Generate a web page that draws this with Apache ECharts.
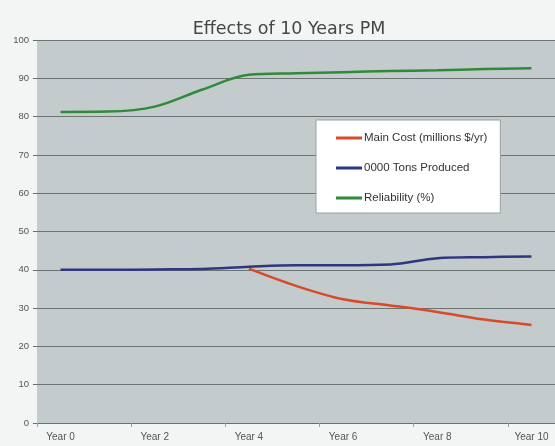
<!DOCTYPE html>
<html>
<head>
<meta charset="utf-8">
<script src="https://cdn.jsdelivr.net/npm/echarts@6/dist/echarts.min.js"></script>
<style>
html,body{margin:0;padding:0;background:#f3f4f4;}
#c{width:555px;height:446px;}
</style>
</head>
<body>
<div id="c"></div>
<script>
var years = ['Year 0','Year 1','Year 2','Year 3','Year 4','Year 5','Year 6','Year 7','Year 8','Year 9','Year 10'];
var mainCost = [null, null, null, null, 40.3, 35.8, 32.3, 30.7, 29.0, 27.0, 25.6];
var tonsProduced = [40.0, 40.0, 40.1, 40.2, 40.8, 41.2, 41.2, 41.4, 43.0, 43.3, 43.5];
var reliability = [81.2, 81.3, 82.6, 87.0, 90.9, 91.3, 91.6, 91.9, 92.1, 92.4, 92.6];
var seriesNames = ['Main Cost (millions $/yr)', '0000 Tons Produced', 'Reliability (%)'];
var yTicks = [0, 10, 20, 30, 40, 50, 60, 70, 80, 90, 100];

var chart = echarts.init(document.getElementById('c'));
chart.setOption({
  backgroundColor: '#f3f4f4',
  animation: false,
  title: {
    text: 'Effects of 10 Years PM',
    left: 284, textAlign: 'center',
    top: 15,
    textStyle: {fontFamily: 'DejaVu Sans', fontSize: 17.5, fontWeight: 'normal', color: '#464646'}
  },
  grid: {left: 37, right: -3, top: 40, bottom: 23, show: true, backgroundColor: '#c4cbcc', borderWidth: 0},
  legend: {
    orient: 'vertical', left: 316, top: 120,
    backgroundColor: '#ffffff', borderColor: '#9aa0a0', borderWidth: 1,
    padding: [12, 13, 9, 20], itemGap: 18, itemWidth: 26, itemHeight: 3,
    icon: 'rect',
    textStyle: {fontFamily: 'Liberation Sans', fontSize: 11.5, color: '#333', padding: [0, 0, 0, -3]},
    data: seriesNames
  },
  xAxis: {
    type: 'category', data: years, boundaryGap: true,
    axisLine: {lineStyle: {color: '#6a6f70', width: 1}},
    axisTick: {show: true, interval: 1, length: 4, lineStyle: {color: '#9aa0a0'}},
    axisLabel: {interval: 1, fontFamily: 'Liberation Sans', fontSize: 10, color: '#555', margin: 9},
    splitLine: {show: false}
  },
  yAxis: {
    type: 'value', min: yTicks[0], max: yTicks[yTicks.length - 1], interval: 10,
    axisLine: {show: false},
    axisTick: {show: true, length: 4, lineStyle: {color: '#6a6f70'}},
    axisLabel: {fontFamily: 'Liberation Sans', fontSize: 9.5, color: '#555', margin: 8},
    splitLine: {lineStyle: {color: '#6d7373', width: 1}}
  },
  series: [
    {name: seriesNames[0], type: 'line', data: mainCost, smooth: 0.35, symbol: 'none', lineStyle: {color: '#d84a2a', width: 2.5}, itemStyle: {color: '#d84a2a'}},
    {name: seriesNames[1], type: 'line', data: tonsProduced, smooth: 0.35, symbol: 'none', lineStyle: {color: '#2d3780', width: 2.5}, itemStyle: {color: '#2d3780'}},
    {name: seriesNames[2], type: 'line', data: reliability, smooth: 0.35, symbol: 'none', lineStyle: {color: '#2f8a3a', width: 2.5}, itemStyle: {color: '#2f8a3a'}}
  ]
});
</script>
</body>
</html>
